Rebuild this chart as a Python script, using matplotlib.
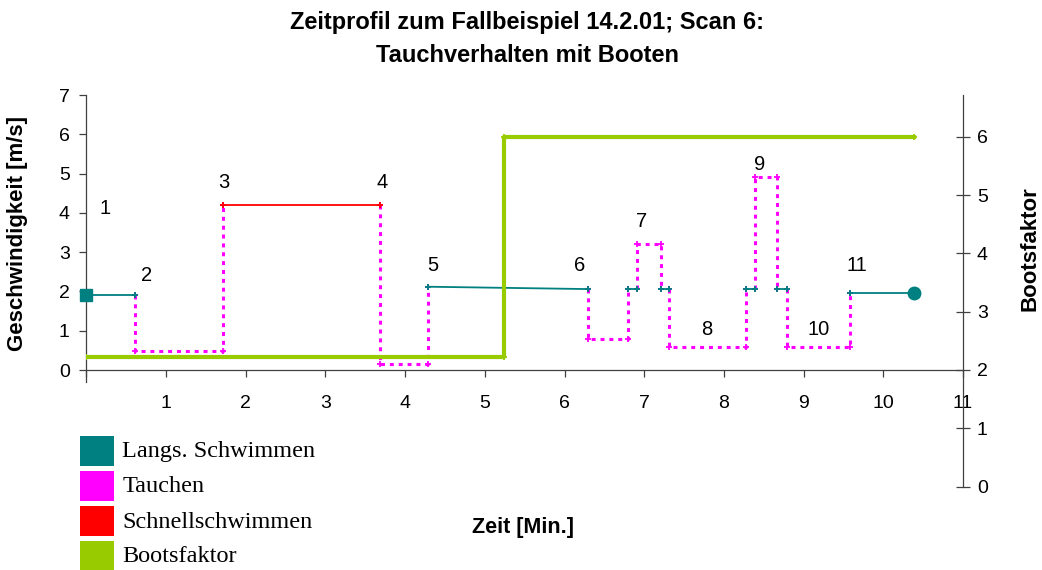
import matplotlib.pyplot as plt
from matplotlib.patches import Rectangle

plt.rcParams['font.family'] = ['Liberation Sans', 'DejaVu Sans']

# Phasen: Typ, Beginn/Ende [Min.], Geschwindigkeit am Beginn/Ende [m/s]
# L = Langs. Schwimmen, T = Tauchen, S = Schnellschwimmen
phase_typ = ["L", "T", "S", "T", "L", "T", "L", "T", "L", "T", "L", "T", "L", "T", "L"]
phase_beginn = [0.00, 0.61, 1.71, 3.69, 4.29, 6.30, 6.80, 6.91, 7.21, 7.31, 8.28, 8.39, 8.67, 8.79, 9.58]
phase_ende = [0.61, 1.71, 3.69, 4.29, 6.30, 6.80, 6.91, 7.21, 7.31, 8.28, 8.39, 8.67, 8.79, 9.58, 10.38]
v_beginn = [1.92, 0.48, 4.20, 0.16, 2.12, 0.78, 2.06, 3.20, 2.06, 0.58, 2.06, 4.91, 2.06, 0.59, 1.97]
v_ende = [1.92, 0.48, 4.20, 0.16, 2.06, 0.78, 2.06, 3.20, 2.06, 0.58, 2.06, 4.91, 2.06, 0.59, 1.97]

boot_zeit = [0.0, 5.24, 5.24, 10.38]
boot_faktor = [2.23, 2.23, 6.0, 6.0]

# Nummern der Abschnitte
nr_text = ["1", "2", "3", "4", "5", "6", "7", "8", "9", "10", "11"]
nr_x = [0.23, 0.75, 1.73, 3.71, 4.35, 6.19, 6.97, 7.79, 8.45, 9.19, 9.67]
nr_y = [4.12, 2.40, 4.78, 4.78, 2.67, 2.67, 3.79, 1.03, 5.22, 1.03, 2.67]

farben = {"L": "#008080", "T": "#FF00FF", "S": "#FF0000", "B": "#99CC00"}
namen = {"L": "Langs. Schwimmen", "T": "Tauchen", "S": "Schnellschwimmen", "B": "Bootsfaktor"}

W, H = 1042, 570
fig = plt.figure(figsize=(W / 100, H / 100), dpi=100)

x0, x1 = 86.3, 963
ax = fig.add_axes([x0 / W, 1 - 382 / H, (x1 - x0) / W, (382 - 95) / H])
ax2 = fig.add_axes([x0 / W, 1 - 486.5 / H, (x1 - x0) / W, (486.5 - 95) / H])
ax2.patch.set_alpha(0)

for i, typ in enumerate(phase_typ):
    t0, t1 = phase_beginn[i], phase_ende[i]
    if typ == "T":
        v_vor = v_ende[i - 1]
        v_nach = v_beginn[i + 1]
        ax.plot([t0, t0, t1, t1], [v_vor, v_beginn[i], v_ende[i], v_nach],
                color=farben[typ], lw=2.2, ls=(0, (1.3, 1.6)),
                marker='+', ms=5, mew=1.3, zorder=2)
    else:
        ax.plot([t0, t1], [v_beginn[i], v_ende[i]], color=farben[typ], lw=1.3,
                marker='+', ms=5, mew=1.3, zorder=3)

# Start- und Endpunkt
ax.plot(phase_beginn[0], v_beginn[0], marker='s', ms=8.5, color=farben["L"],
        zorder=4, clip_on=False)
ax.plot(phase_ende[-1], v_ende[-1], marker='o', ms=9, color=farben["L"],
        zorder=4, clip_on=False)

for t, x, y in zip(nr_text, nr_x, nr_y):
    ax.text(x, y, t, fontsize=14.5, ha='center', va='center')

ax2.plot(boot_zeit, boot_faktor, color=farben["B"], lw=3, marker='+', ms=5, mew=1.3)

achsfarbe = '#404040'
ax.set_xlim(0, 11)
ax.set_ylim(-0.305, 7)
ax.spines['top'].set_visible(False)
ax.spines['right'].set_visible(False)
ax.spines['bottom'].set_position(('data', 0))
for s in ['left', 'bottom']:
    ax.spines[s].set_color(achsfarbe)
    ax.spines[s].set_linewidth(0.9)
ax.set_xticks(range(12))
ax.set_xticklabels([''] + [str(i) for i in range(1, 12)])
ax.set_yticks(range(8))
ax.tick_params(axis='x', direction='out', length=5, width=0.9, color=achsfarbe,
               labelsize=14, pad=13)
ax.tick_params(axis='y', direction='out', length=5, width=0.9, color=achsfarbe,
               labelsize=14, pad=7)

ax2.set_xlim(0, 11)
ax2.set_ylim(0, 6.72)
for s in ['left', 'top', 'bottom']:
    ax2.spines[s].set_visible(False)
ax2.spines['right'].set_color(achsfarbe)
ax2.spines['right'].set_linewidth(0.9)
ax2.xaxis.set_visible(False)
ax2.yaxis.tick_right()
ax2.set_yticks(range(7))
ax2.tick_params(axis='y', direction='inout', length=10, width=0.9, color=achsfarbe,
                labelsize=14, pad=5)

fig.text(527 / W, 1 - 22 / H, "Zeitprofil zum Fallbeispiel 14.2.01; Scan 6:",
         fontsize=17, fontweight='bold', ha='center', va='center')
fig.text(527 / W, 1 - 55 / H, "Tauchverhalten mit Booten",
         fontsize=17, fontweight='bold', ha='center', va='center')
fig.text(18 / W, 1 - 234 / H, "Geschwindigkeit [m/s]", fontsize=16, fontweight='bold',
         rotation=90, ha='center', va='center')
fig.text(1030 / W, 1 - 249 / H, "Bootsfaktor", fontsize=16, fontweight='bold',
         rotation=90, ha='center', va='center')
fig.text(523 / W, 1 - 528 / H, "Zeit [Min.]", fontsize=15.5, fontweight='bold',
         ha='center', va='center')

# Legende
for k, key in enumerate(["L", "T", "S", "B"]):
    oben = 436 + 35 * k
    fig.add_artist(Rectangle((80 / W, 1 - (oben + 30) / H), 34 / W, 30 / H,
                             transform=fig.transFigure, facecolor=farben[key],
                             edgecolor='none'))
    fig.text(122.5 / W, 1 - (oben + 16) / H, namen[key], fontsize=17.5,
             family='Liberation Serif', ha='left', va='center')

fig.savefig("out.png", dpi=100)
